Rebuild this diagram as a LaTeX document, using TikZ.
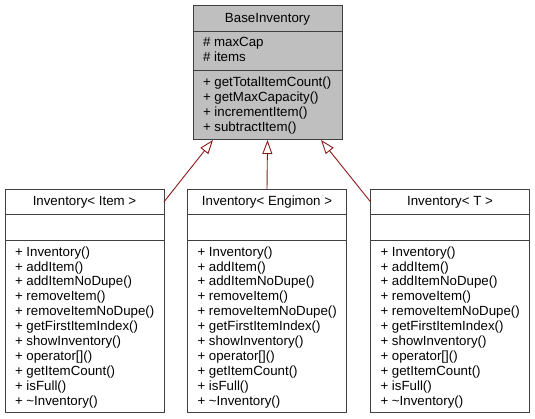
\documentclass[tikz,border=0pt]{standalone}
\usepackage{fontspec}
\setmainfont{Liberation Sans}
\usetikzlibrary{arrows.meta}
\definecolor{bord}{RGB}{64,64,64}
\definecolor{inhcol}{RGB}{139,26,26}
\definecolor{basefill}{RGB}{191,191,191}
\begin{document}
\begin{tikzpicture}[x=1pt,y=-1pt,
  box/.style={draw=bord,line width=1pt,inner sep=0pt,outer sep=0pt,anchor=north west,fill=white},
  txt/.style={font=\fontsize{13.3}{15}\selectfont,inner sep=0pt,outer sep=0pt,anchor=base west},
  ttl/.style={txt,anchor=base},
  inharrow/.style={draw=inhcol,line width=0.9pt,-{Triangle[open,length=14pt,width=10pt]}}]
\useasboundingbox (0,0) rectangle (535,419);
% base class
\node[box,fill=basefill,minimum width=149pt,minimum height=26.4pt] (bt) at (193,5.3) {};
\node[box,fill=basefill,minimum width=149pt,minimum height=39.3pt] (ba) at (193,31.7) {};
\node[box,fill=basefill,minimum width=149pt,minimum height=69pt] (bm) at (193,71) {};
\node[ttl] (btx) at (267.5,22.6) {BaseInventory};
\node[txt] (ba0) at (203,47) {\# maxCap};
\node[txt] (ba1) at (203,61.9) {\# items};
\foreach \t [count=\i from 0] in {getTotalItemCount(),getMaxCapacity(),incrementItem(),subtractItem()}
  \node[txt] (bm\i) at (203,{86.5+14.9*\i}) {+ \t};
% derived classes
\foreach \k/\xl/\nm in {1/5/Item,2/187.5/Engimon,3/370.5/T}{
  \node[box,minimum width=159pt,minimum height=25pt] (c\k t) at (\xl,189.3) {};
  \node[box,minimum width=159pt,minimum height=26.4pt] (c\k e) at (\xl,214.3) {};
  \node[box,minimum width=159pt,minimum height=172pt] (c\k m) at (\xl,240.7) {};
  \node[ttl] (c\k tx) at ({\xl+79.5},206) {Inventory< \nm{} >};
  \foreach \t [count=\i from 0] in {Inventory(),addItem(),addItemNoDupe(),removeItem(),removeItemNoDupe(),getFirstItemIndex(),showInventory(),{operator[]()},getItemCount(),isFull(),\textasciitilde Inventory()}
    \node[txt] (c\k m\i) at ({\xl+10},{256.2+14.9*\i}) {+ \t};
}
% inheritance connectors
\coordinate (tipL) at (213,140);
\coordinate (tipR) at (321,140);
\draw[inharrow] (c1t.east) -- (tipL);
\draw[inharrow] (c2t.north) -- (bm.south);
\draw[inharrow] (c3t.west) -- (tipR);
\end{tikzpicture}
\end{document}
